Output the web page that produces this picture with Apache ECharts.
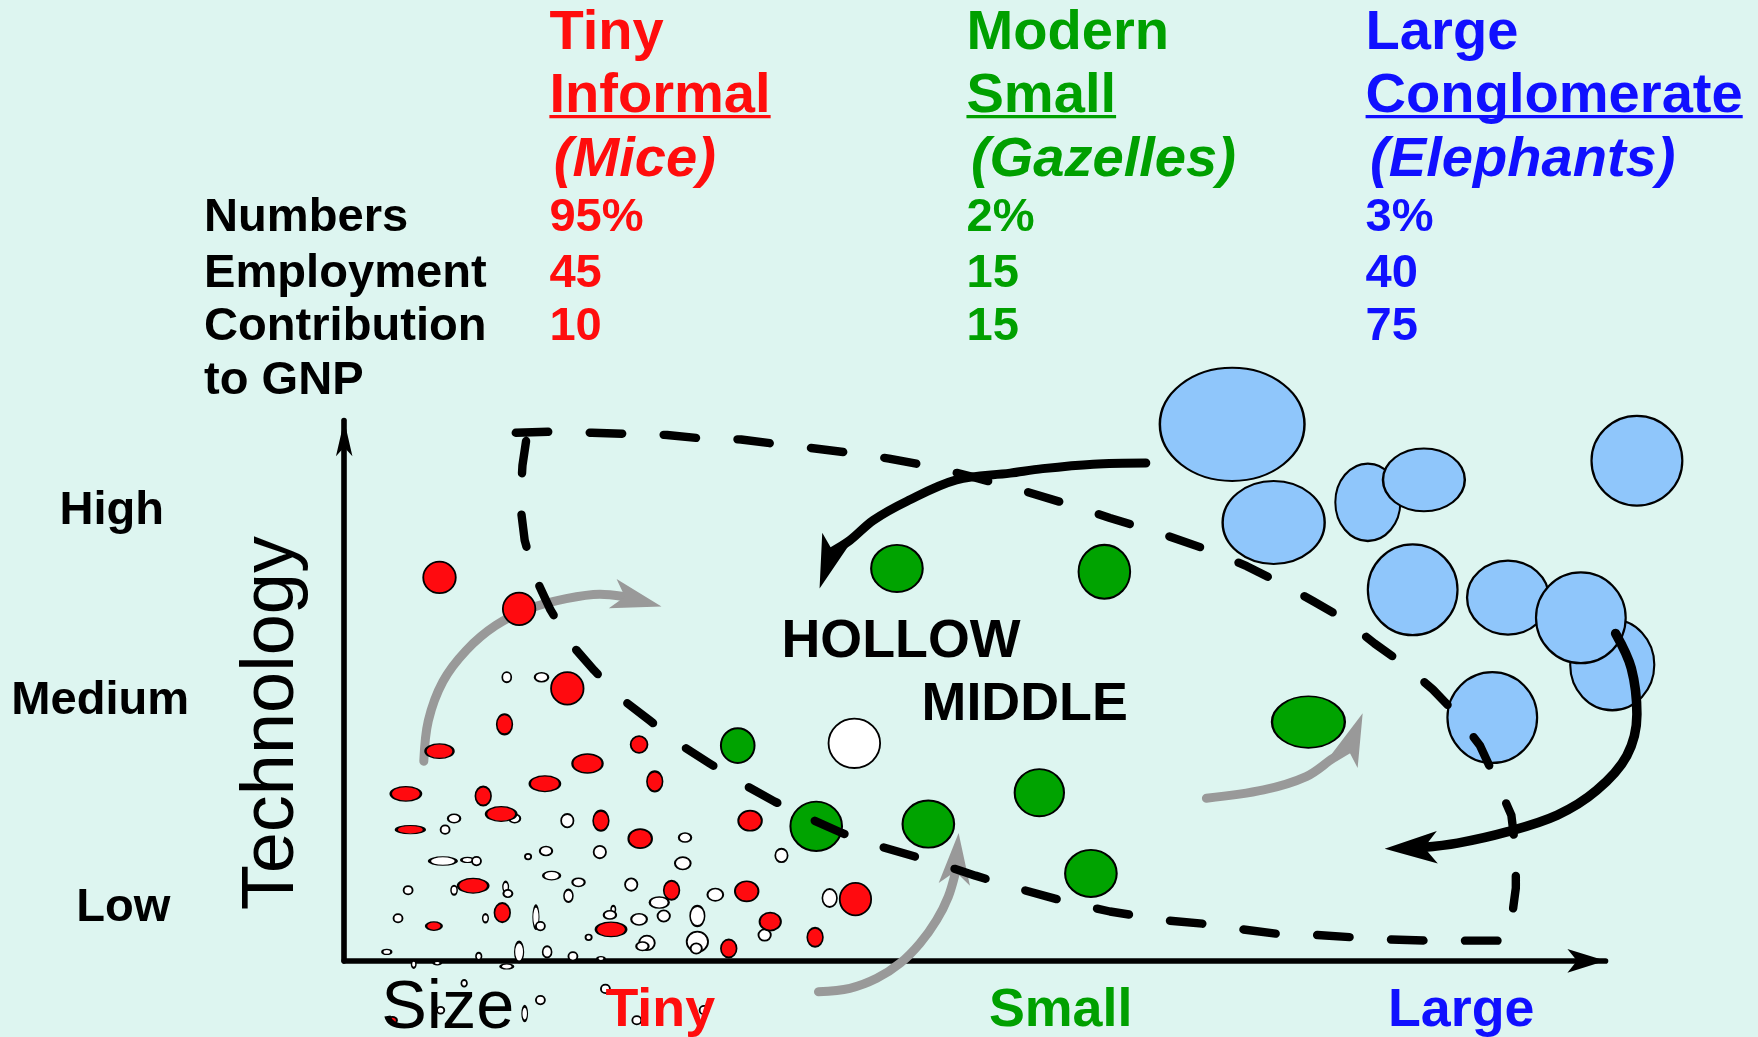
<!DOCTYPE html>
<html>
<head>
<meta charset="utf-8">
<title>Hollow middle</title>
<script src="https://cdn.jsdelivr.net/npm/echarts@6/dist/echarts.min.js"></script>
<style>
  html, body { margin: 0; padding: 0; background: #ddf5f0; }
  #chart { width: 1758px; height: 1037px; }
</style>
</head>
<body>
<div id="chart"></div>
<script>
// table above the plot
var groupLine1 = ['Tiny', 'Modern', 'Large'];
var groupLine2 = ['Informal', 'Small', 'Conglomerate'];
var groupNick = ['(Mice)', '(Gazelles)', '(Elephants)'];
var rowLabels = ['Numbers', 'Employment', 'Contribution', 'to GNP'];
var numbersShare = ['95%', '2%', '3%'];
var employment = ['45', '15', '40'];
var gnpShare = ['10', '15', '75'];

// axis labels
var techLevels = ['High', 'Medium', 'Low'];
var sizeClasses = ['Tiny', 'Small', 'Large'];

// firms: [size, technology, width, height] in drawing units
var whiteFirms = [
  [452,604,8,9],[483,604,12,8],[405,730,11,7.5],[397,740,8,7.5],[459,730,10,7.5],[506,732,11,12],
  [611,747,11,8],[697,763,11,12],[395,768,24,7.5],[417,767,11,4.5],[425,768,8,7.5],[471,764,5.5,5],
  [487,759,11,8],[535,760,11,11],[609,770,14,11],[492,781,15,7.5],[516,787,11,7.5],[507,799,8,11],
  [563,789,11,11],[364,794,8,7.5],[405,794,5.5,8],[451,791,5,9],[453,797,8,6.5],[638,798,14,11],
  [588,805,17,10],[355,819,8,7.5],[433,819,5,7.5],[478,818,5.5,20],[482,826,8,7.5],[547,811,4,6],
  [544,816,11,7.5],[570,820,14,10],[592,817,11,10],[622,817,13,18],[740,801,13,16],[682,834,11,10],
  [525,836,5.5,5],[577,841,14,13],[573,844,11,7.5],[622,840,19,18],[621,846,10,9],[463,849,8,18],
  [488,849,8,10],[511,853,8,7.5],[345,849,8,4.5],[427,853,5,6.5],[536,855,6.5,3.5],[369,860,4,6.5],
  [390,859,6.5,3],[452,862,11,4.5],[414,877,5,6],[482,892,8,7.5],[468,904,5,13],[540,882,8,7.5],
  [568,910,8,7.5],[628,901,8,7.5],[393,901,6.5,6],[762,663,46,44]
];
var redFirms = [
  [392,515,29,28],[463,543,29,29],[506,614,29,29],[763,802,28,29],[450,646,14,18],[392,670,25,13],
  [570,664,15,15],[524,681,27,17],[486,699,27,14],[584,697,14,18],[362,708,27,13],[431,710,14,17],
  [447,726,27,13],[536,732,14,18],[366,740,25,7.5],[669,732,21,18],[571,748,21,17],[422,790,27,13],
  [599,794,14,17],[666,795,21,18],[448,814,14,17],[687,822,19,16],[387,826,14,7.5],[545,829,27,13],
  [727,836,14,17],[650,846,14,16],[350,910,8,6]
];
var greenFirms = [
  [800,507,46,42],[985,510,46,48],[658,665,30,31],[728,737,46,44],[828,735,46,42],
  [927,707,44,42],[973,779,46,42],[1167,644,65,46]
];
var blueFirms = [
  [1099,378.5,129,101],[1136,466,91,74],[1220,448,58,69],[1270,428,73,56],[1460,411,81,80],
  [1260,526,80,81],[1345,533,73,66],[1438,593,75,81],[1410,551,80,81],[1331,640,80,81]
];

// dashed outline of the "hollow middle"
var hollowOutline = [
  [460,386],[493,385],[528,386],[560,387],[595,388],[625,391],[661,392],[692,396],[727,400],
  [759,404],[793,409],[830,416],[870,426],[910,437],[950,449],[990,462],[1030,474],[1079,491],
  [1112,505],[1140,519],[1171,536],[1197,551],[1226,574],[1250,591],[1278,615],[1299,637],
  [1320,665],[1333,693],[1348,727],[1352,760],[1352,792],[1348,822],[1343,839],[1307,839],
  [1273,839],[1240,838],[1206,836],[1175,834],[1140,833],[1109,829],[1074,824],[1041,821],
  [990,813],[950,804],[910,793],[870,781],[830,768],[785,755],[751,743],[722,730],[691,715],
  [664,700],[633,681],[608,665],[580,643],[554,623],[530,598],[509,574],[491,544],[477,514],
  [468,482],[464,450],[466,415],[470,388]
];

// flows; the last point of each is the arrow tip
var blackFlowTop = [[1022,413],[975,414],[930,418],[901,422],[853,428],[809,447],[779,464],[758,482],[742,492],[731,525]];
var blackFlowRight = [[1441,565],[1455,596],[1460,637],[1451,674],[1424,705],[1389,727],[1344,742],[1300,752],[1268,756],[1235,757]];
var grayFlowLeft = [[378,679],[382,643],[395,608],[416,580],[442,558],[472,543],[505,534],[535,530],[556,532],[590,541]];
var grayFlowBottom = [[730,884.5],[758,881.5],[782,872.6],[803,859],[820.5,841.4],[835.4,820.6],[845.8,799.8],[852,779],[855,743]];
var grayFlowRight = [[1076,712],[1127,704.6],[1165,692.7],[1189,676.4],[1203,668],[1215.4,636.2]];

var K = 1758 / 1568;
function P(v) { return v * K; }

var chart = echarts.init(document.getElementById('chart'));

function firmSeries(data, fill, border, z) {
  return {
    type: 'scatter', data: data, z: z, clip: false, silent: true,
    xAxisIndex: 1, yAxisIndex: 1,
    symbol: 'circle',
    symbolSize: function (v) { return [v[2] * K, v[3] * K]; },
    itemStyle: { color: fill, borderColor: '#000', borderWidth: border, opacity: 1 }
  };
}

function shaftSeries(pts, color, width, z) {
  return {
    type: 'line', data: pts.slice(0, pts.length - 1), z: z, clip: false, silent: true,
    xAxisIndex: 1, yAxisIndex: 1,
    smooth: 0.35, symbol: 'none',
    lineStyle: { color: color, width: width, cap: 'round', join: 'round' }
  };
}

// arrow head sits with its tip on the last point, turned along the last segment
function headItem(pts, len, wid) {
  var a = pts[pts.length - 2], b = pts[pts.length - 1];
  var dx = b[0] - a[0], dy = b[1] - a[1];
  var rot = Math.atan2(-dy, dx) * 180 / Math.PI - 90;
  return {
    value: b,
    symbolRotate: rot,
    symbolSize: [wid * 0.75 * K, len * K]
  };
}

function headSeries(items, color, z) {
  return {
    type: 'scatter', data: items, z: z, clip: false, silent: true, symbol: 'arrow',
    xAxisIndex: 1, yAxisIndex: 1,
    itemStyle: { color: color, opacity: 1 }
  };
}

var red = '#ff0d0d', green = '#00a000', blue = '#1010ff';
var headColors = [red, green, blue];
var colX = [490, 862, 1218];

var fontFamily = '"Liberation Sans", Arial, Helvetica, sans-serif';
var graphics = [];
function text(s, x, baseline, size, color, weight, style) {
  graphics.push({
    type: 'text', x: P(x), y: P(baseline - 0.25 * size), z: 100, silent: true,
    style: {
      text: s, fill: color, textAlign: 'left', textVerticalAlign: 'middle',
      font: (style || 'normal') + ' ' + (weight || 'bold') + ' ' + P(size).toFixed(1) + 'px ' + fontFamily
    }
  });
}
var measureCtx = document.createElement('canvas').getContext('2d');
function underline(s, x, y, size, color) {
  measureCtx.font = 'bold ' + P(size).toFixed(1) + 'px ' + fontFamily;
  var w = measureCtx.measureText(s).width;
  graphics.push({
    type: 'rect', z: 100, silent: true,
    shape: { x: P(x), y: P(y), width: w, height: P(3) },
    style: { fill: color }
  });
}

for (var i = 0; i < 3; i++) {
  text(groupLine1[i], colX[i], 42, 50, headColors[i]);
  text(groupLine2[i], colX[i], 99, 50, headColors[i]);
  underline(groupLine2[i], colX[i], 102.5, 50, headColors[i]);
  text(groupNick[i], colX[i] + 4, 156, 50, headColors[i], 'bold', 'italic');
  text(numbersShare[i], colX[i], 205, 42, headColors[i]);
  text(employment[i], colX[i], 255, 42, headColors[i]);
  text(gnpShare[i], colX[i], 302.5, 42, headColors[i]);
}
var rowBase = [205, 255, 302.5, 350.5];
rowLabels.forEach(function (s, k) { text(s, 182, rowBase[k], 42, '#000'); });

var techX = [53, 10, 68], techBase = [466, 636, 820];
techLevels.forEach(function (s, k) { text(s, techX[k], techBase[k], 42, '#000'); });
var sizeX = [540, 882, 1238];
sizeClasses.forEach(function (s, k) { text(s, sizeX[k], 914, 48, headColors[k]); });

text('HOLLOW', 697, 585, 48, '#000');
text('MIDDLE', 822, 641, 48, '#000');
text('Size', 340, 915, 61, '#000', 'normal');
graphics.push({
  type: 'text', x: P(243), y: P(645), rotation: Math.PI / 2, z: 100, silent: true,
  style: {
    text: 'Technology', fill: '#000', textAlign: 'center', textVerticalAlign: 'middle',
    font: 'normal ' + P(66).toFixed(1) + 'px ' + fontFamily
  }
});

var hiddenAxis = {
  show: false, axisLine: { show: false }, axisTick: { show: false },
  axisLabel: { show: false }, splitLine: { show: false }
};

var option = {
  backgroundColor: '#ddf5f0',
  animation: false,
  grid: [
    // the Size / Technology axes
    { left: P(307), top: P(375), width: P(1432 - 307), height: P(857 - 375), show: false },
    // drawing plane, same scale, spanning the page
    { left: 0, top: 0, width: 1758, height: 1037, show: false }
  ],
  xAxis: [
    {
      type: 'value', gridIndex: 0, min: 307, max: 1432,
      axisLine: { show: true, onZero: false, symbol: ['none', 'arrow'], symbolSize: [P(16), P(34)],
        lineStyle: { color: '#000', width: P(5) } },
      axisTick: { show: false }, axisLabel: { show: false }, splitLine: { show: false }
    },
    Object.assign({ type: 'value', gridIndex: 1, min: 0, max: 1758 / K }, hiddenAxis)
  ],
  yAxis: [
    {
      type: 'value', gridIndex: 0, inverse: true, min: 375, max: 857,
      axisLine: { show: true, onZero: false, symbol: ['none', 'arrow'], symbolSize: [P(11), P(32)],
        lineStyle: { color: '#000', width: P(5) } },
      axisTick: { show: false }, axisLabel: { show: false }, splitLine: { show: false }
    },
    Object.assign({ type: 'value', gridIndex: 1, inverse: true, min: 0, max: 1037 / K }, hiddenAxis)
  ],
  series: [
    firmSeries(whiteFirms, '#ffffff', 1.8, 2),
    shaftSeries(grayFlowLeft, '#999999', P(8), 3),
    shaftSeries(grayFlowBottom, '#999999', P(8), 3),
    shaftSeries(grayFlowRight, '#999999', P(8), 3),
    headSeries([headItem(grayFlowLeft, 45, 27), headItem(grayFlowBottom, 46, 28), headItem(grayFlowRight, 47, 27)], '#999999', 3),
    firmSeries(redFirms, '#ff0a0f', 1.8, 4),
    firmSeries(greenFirms, '#00a300', 2, 4),
    firmSeries(blueFirms, '#8fc6fb', 2.2, 4),
    {
      type: 'line', data: hollowOutline, z: 5, clip: false, silent: true, symbol: 'none',
      xAxisIndex: 1, yAxisIndex: 1,
      lineStyle: { color: '#000', width: P(7.5), type: [P(29), P(37)], cap: 'round', join: 'round' }
    },
    shaftSeries(blackFlowTop, '#000', P(8), 6),
    shaftSeries(blackFlowRight, '#000', P(8.5), 6),
    headSeries([headItem(blackFlowTop, 48, 27), headItem(blackFlowRight, 47, 29)], '#000', 6)
  ],
  graphic: { elements: graphics }
};
chart.setOption(option);
</script>
</body>
</html>
